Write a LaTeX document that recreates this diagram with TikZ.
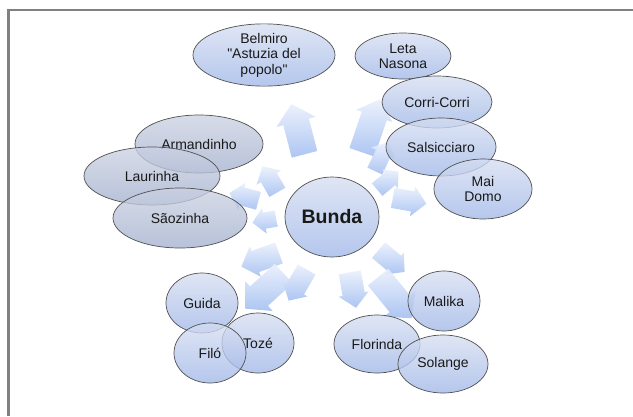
\documentclass[tikz,border=0pt]{standalone}
\usepackage{fontspec}
\setmainfont{Liberation Sans}[Ligatures=TeXOff]
\usetikzlibrary{shapes.geometric,shapes.arrows}

\definecolor{framegray}{RGB}{128,128,128}
\definecolor{edgegray}{RGB}{80,80,80}
\definecolor{arrtop}{RGB}{234,240,252}
\definecolor{arrbot}{RGB}{164,191,241}
\definecolor{bubtop}{RGB}{214,222,241}
\definecolor{bubbot}{RGB}{160,183,232}
\definecolor{gbubtop}{RGB}{204,210,226}
\definecolor{gbubbot}{RGB}{163,176,206}

\tikzset{
  bubble/.style={ellipse, draw=edgegray, line width=0.7pt, top color=bubtop, bottom color=bubbot,
    fill opacity=0.78, text opacity=1, inner sep=0pt, align=center, text=black!90,
    font=\fontsize{14}{15.5}\selectfont},
  greybubble/.style={bubble, top color=gbubtop, bottom color=gbubbot},
  blockarr/.style={single arrow, draw=none, single arrow tip angle=95, minimum width=1pt,
    inner xsep=0pt, top color=arrtop, bottom color=arrbot, rotate=#1, fill opacity=0.9}
}

\begin{document}
\begin{tikzpicture}[x=1pt,y=1pt,yscale=-1,xscale=1]
\useasboundingbox (0,0) rectangle (633,416);

%Frame
\draw [framegray, line width=2.5pt] (8.7,416) -- (8.7,10) -- (633,10);

%Arrows: top
\node [blockarr=104.6, minimum height=52, inner ysep=13, single arrow head extend=7] (toBelmiro) at (299.5,135) {};
\node [blockarr=71.2, minimum height=56, inner ysep=13, single arrow head extend=6] (toCorri) at (369,131.5) {};
%Arrows: right
\node [blockarr=65, minimum height=32, inner ysep=8, single arrow head extend=5] (toSalsA) at (380,160) {};
\node [blockarr=40, minimum height=28, inner ysep=8, single arrow head extend=4] (toSalsB) at (385,183) {};
\node [blockarr=-10, minimum height=34, inner ysep=10, single arrow head extend=5] (toMaiDomo) at (405,200) {};
%Arrows: left
\node [blockarr=120, minimum height=30, inner ysep=9, single arrow head extend=5] (toArmand) at (272,183) {};
\node [blockarr=165, minimum height=30, inner ysep=9, single arrow head extend=5] (toLaurinha) at (248,198) {};
\node [blockarr=190, minimum height=24, inner ysep=8, single arrow head extend=5] (toSaoz) at (268,220) {};
%Arrows: bottom left
\node [blockarr=200, minimum height=40, inner ysep=11, single arrow head extend=5] (toGuidaA) at (265,258) {};
\node [blockarr=-120, minimum height=36, inner ysep=10, single arrow head extend=4] (toToze) at (300,281) {};
\node [blockarr=222.6, minimum height=52, inner ysep=13, single arrow head extend=7] (toGuidaB) at (269,287) {};
%Arrows: bottom right
\node [blockarr=-40, minimum height=34, inner ysep=10, single arrow head extend=4] (toMalikaA) at (388,258) {};
\node [blockarr=-80, minimum height=36, inner ysep=11, single arrow head extend=4] (toFlorinda) at (352,285) {};
\node [blockarr=-51, minimum height=53, inner ysep=13, single arrow head extend=7] (toMalikaB) at (391,293) {};

%Centre
\node [bubble, minimum width=94, minimum height=80, font=\fontsize{19.5}{22}\selectfont\bfseries] (bunda) at (332,217) {Bunda};

%Top and right group
\node [bubble, minimum width=142, minimum height=62] (belmiro) at (264,55) {Belmiro\\"Astuzia del\\popolo"};
\node [bubble, minimum width=96, minimum height=46] (leta) at (403,56) {Leta\\Nasona};
\node [bubble, minimum width=110, minimum height=52] (corri) at (437,102) {Corri-Corri};
\node [bubble, minimum width=110, minimum height=58] (salsicciaro) at (441,147) {Salsicciaro};
\node [bubble, minimum width=98, minimum height=60] (maidomo) at (483,189) {Mai\\Domo};

%Left group
\node [greybubble, minimum width=128, minimum height=58] (armandinho) at (199,144) {Armandinho};
\node [greybubble, minimum width=136, minimum height=58] (laurinha) at (152,176) {Laurinha};
\node [greybubble, minimum width=134, minimum height=60] (saozinha) at (180,218) {Sãozinha};

%Bottom left group
\node [bubble, minimum width=72, minimum height=60] (guida) at (202,303) {Guida};
\node [bubble, minimum width=72, minimum height=60] (toze) at (258,343) {Tozé};
\node [bubble, minimum width=72, minimum height=60] (filo) at (210,353) {Filó};

%Bottom right group
\node [bubble, minimum width=72, minimum height=60] (malika) at (444,301) {Malika};
\node [bubble, minimum width=86, minimum height=58] (florinda) at (377,344) {Florinda};
\node [bubble, minimum width=90, minimum height=58] (solange) at (443,364) {Solange};
\end{tikzpicture}
\end{document}
